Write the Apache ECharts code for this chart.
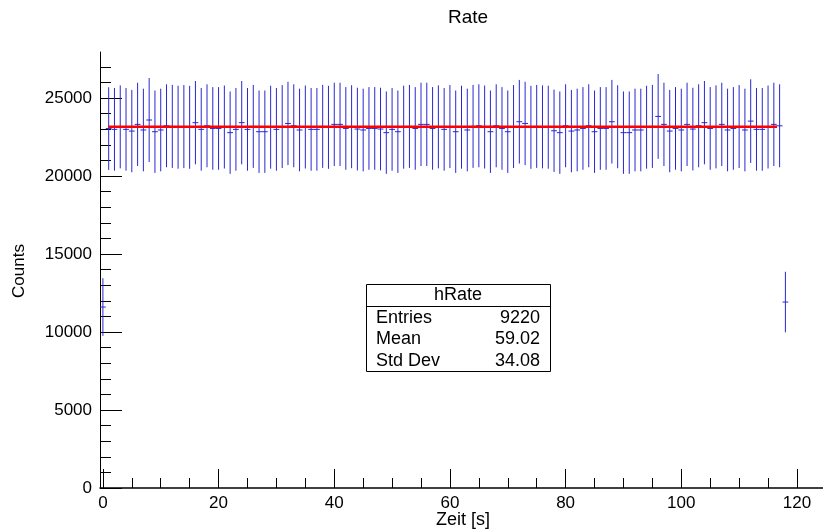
<!DOCTYPE html>
<html>
<head>
<meta charset="utf-8">
<script src="https://cdn.jsdelivr.net/npm/echarts@6/dist/echarts.min.js"></script>
<style>
  html, body { margin: 0; padding: 0; background: #ffffff; }
  #chart { width: 823px; height: 531px; }
</style>
</head>
<body>
<div id="chart"></div>
<script>
// Bin centres of the rate histogram (1 s bins)
const binCenters = [
  0, 1, 2, 3, 4, 5, 6, 7, 8, 9, 10, 11, 12, 13, 14, 15, 16, 17, 18, 19, 20,
  21, 22, 23, 24, 25, 26, 27, 28, 29, 30, 31, 32, 33, 34, 35, 36, 37, 38, 39, 40,
  41, 42, 43, 44, 45, 46, 47, 48, 49, 50, 51, 52, 53, 54, 55, 56, 57, 58, 59, 60,
  61, 62, 63, 64, 65, 66, 67, 68, 69, 70, 71, 72, 73, 74, 75, 76, 77, 78, 79, 80,
  81, 82, 83, 84, 85, 86, 87, 88, 89, 90, 91, 92, 93, 94, 95, 96, 97, 98, 99, 100,
  101, 102, 103, 104, 105, 106, 107, 108, 109, 110, 111, 112, 113, 114, 115, 116, 117, 118
];

// Bin contents (counts per bin)
const counts = [
  11600,
  23040, 22990, 23150, 22990, 22880, 23310, 22950, 23590, 22840, 22950,
  23220, 23180, 23130, 23170, 23120, 23420, 22990, 23220, 23050, 23050,
  23140, 22780, 22990, 23420, 22990, 23180, 22840, 22840, 23130, 22990,
  23170, 23370, 23220, 22950, 23140, 22990, 22990, 23180, 23120, 23310,
  23310, 23050, 23160, 23010, 22950, 23050, 23050, 23010, 22780, 22990,
  22840, 23130, 23180, 23050, 23310, 23310, 23050, 23150, 22990, 23170,
  22840, 23130, 22950, 23180, 23220, 23140, 22840, 23220, 23050, 22840,
  23170, 23480, 23370, 23120, 23180, 23150, 23130, 22900, 22780, 23220,
  22880, 22950, 23050, 23220, 22840, 23050, 23050, 23480, 23160, 22780,
  22780, 22950, 22950, 23130, 23180, 23820, 23310, 22880, 23050, 22950,
  23310, 23010, 23220, 23420, 23050, 23150, 23310, 22950, 23050, 23170,
  22950, 23520, 22990, 22990, 23140, 23310, 23220,
  11920
];

// Bin errors (half length of each vertical error bar)
const countErrors = [
  1850,
  2650, 2650, 2660, 2650, 2640, 2670, 2650, 2690, 2640, 2650,
  2660, 2660, 2660, 2660, 2660, 2670, 2650, 2660, 2650, 2650,
  2660, 2640, 2650, 2670, 2650, 2660, 2640, 2640, 2660, 2650,
  2660, 2670, 2660, 2650, 2660, 2650, 2650, 2660, 2660, 2670,
  2670, 2650, 2660, 2650, 2650, 2650, 2650, 2650, 2640, 2650,
  2640, 2660, 2660, 2650, 2670, 2670, 2650, 2660, 2650, 2660,
  2640, 2660, 2650, 2660, 2660, 2660, 2640, 2660, 2650, 2640,
  2660, 2680, 2670, 2660, 2660, 2660, 2660, 2640, 2640, 2660,
  2640, 2650, 2650, 2660, 2640, 2650, 2650, 2680, 2660, 2640,
  2640, 2650, 2650, 2660, 2660, 2720, 2670, 2640, 2650, 2650,
  2670, 2650, 2660, 2670, 2650, 2660, 2670, 2650, 2650, 2660,
  2650, 2680, 2650, 2650, 2660, 2670, 2660,
  1940
];

// Constant fit (pol0) and the range it was fitted over
const fitRange = [1, 116.55];
const fitLevel = [23160, 23160];

// Axis ticks
const xMajorTicks = [0, 20, 40, 60, 80, 100, 120];
const xMinorTicks = [5, 10, 15, 25, 30, 35, 45, 50, 55, 65, 70, 75, 85, 90, 95, 105, 110, 115];
const yMajorTicks = [0, 5000, 10000, 15000, 20000, 25000];
const yMinorTicks = [1000, 2000, 3000, 4000, 6000, 7000, 8000, 9000, 11000, 12000, 13000, 14000,
                     16000, 17000, 18000, 19000, 21000, 22000, 23000, 24000, 26000, 27000];

// Statistics box
const statTitle = 'hRate';
const statLabels = ['Entries', 'Mean', 'Std Dev'];
const statValues = ['9220', '59.02', '34.08'];

const FONT = '"Liberation Sans", Arial, Helvetica, sans-serif';
const BAR_COLOR = '#2828d2';

const chart = echarts.init(document.getElementById('chart'), null, { renderer: 'canvas' });

const errorData = binCenters.map((x, i) => [x, counts[i], countErrors[i]]);

// Vertical error bar plus a horizontal marker spanning the bin width
function renderErrorBar(params, api) {
  const x = api.value(0);
  const y = api.value(1);
  const e = api.value(2);
  const top = api.coord([x, y + e]);
  const bottom = api.coord([x, y - e]);
  const left = api.coord([x - 0.5, y]);
  const right = api.coord([x + 0.5, y]);
  const style = { stroke: BAR_COLOR, lineWidth: 1 };
  return {
    type: 'group',
    children: [
      { type: 'line', shape: { x1: top[0], y1: top[1], x2: bottom[0], y2: bottom[1] }, style: style },
      { type: 'line', shape: { x1: left[0], y1: left[1], x2: right[0], y2: right[1] }, style: style }
    ]
  };
}

const axisLabelStyle = { color: '#000', fontFamily: FONT, fontSize: 17, formatter: v => String(v) };

const statRows = [];
statLabels.forEach((label, i) => {
  const y = 318 + i * 21.5;
  statRows.push({
    type: 'text', x: 376, y: y,
    style: { text: label, font: '18px ' + FONT, fill: '#000', align: 'left', verticalAlign: 'middle' }
  });
  statRows.push({
    type: 'text', x: 540, y: y,
    style: { text: statValues[i], font: '18px ' + FONT, fill: '#000', align: 'right', verticalAlign: 'middle' }
  });
});

const option = {
  backgroundColor: '#ffffff',
  animation: false,
  grid: { left: 100, right: 0, top: 52, bottom: 43, containLabel: false },
  xAxis: [
    {
      type: 'value', min: -0.5, max: 124.5, position: 'bottom',
      axisLine: { show: true, onZero: false, lineStyle: { color: '#000', width: 1.5 } },
      axisTick: { show: true, inside: true, length: 19, customValues: xMajorTicks, lineStyle: { color: '#000' } },
      axisLabel: { show: true, customValues: xMajorTicks, margin: 7, ...axisLabelStyle },
      splitLine: { show: false }
    },
    {
      type: 'value', min: -0.5, max: 124.5, position: 'bottom',
      axisLine: { show: false, onZero: false },
      axisTick: { show: true, inside: true, length: 10, customValues: xMinorTicks, lineStyle: { color: '#000' } },
      axisLabel: { show: false },
      splitLine: { show: false }
    }
  ],
  yAxis: [
    {
      type: 'value', min: 0, max: 27950, position: 'left',
      axisLine: { show: true, onZero: false, lineStyle: { color: '#000', width: 1 } },
      axisTick: { show: true, inside: true, length: 22, customValues: yMajorTicks, lineStyle: { color: '#000' } },
      axisLabel: { show: true, customValues: yMajorTicks, margin: 8, ...axisLabelStyle },
      splitLine: { show: false }
    },
    {
      type: 'value', min: 0, max: 27950, position: 'left',
      axisLine: { show: false, onZero: false },
      axisTick: { show: true, inside: true, length: 11, customValues: yMinorTicks, lineStyle: { color: '#000' } },
      axisLabel: { show: false },
      splitLine: { show: false }
    }
  ],
  series: [
    {
      name: 'hRate',
      type: 'custom',
      xAxisIndex: 0, yAxisIndex: 0,
      data: errorData,
      encode: { x: 0, y: 1 },
      renderItem: renderErrorBar,
      z: 2
    },
    {
      name: 'pol0',
      type: 'line',
      xAxisIndex: 0, yAxisIndex: 0,
      data: fitRange.map((x, i) => [x, fitLevel[i]]),
      symbol: 'none',
      lineStyle: { color: '#ff0000', width: 2.6 },
      z: 5
    }
  ],
  graphic: [
    {
      type: 'text', x: 468, y: 18,
      style: { text: 'Rate', font: '19px ' + FONT, fill: '#000', align: 'center', verticalAlign: 'middle' }
    },
    {
      type: 'text', x: 463, y: 520,
      style: { text: 'Zeit [s]', font: '18px ' + FONT, fill: '#000', align: 'center', verticalAlign: 'middle' }
    },
    {
      type: 'text', x: 19, y: 271, rotation: Math.PI / 2,
      style: { text: 'Counts', font: '17px ' + FONT, fill: '#000', align: 'center', verticalAlign: 'middle' }
    },
    {
      type: 'group',
      children: [
        {
          type: 'rect', shape: { x: 366.5, y: 284.5, width: 184, height: 87 },
          style: { fill: '#ffffff', stroke: '#000', lineWidth: 1 }
        },
        {
          type: 'line', shape: { x1: 366.5, y1: 306.5, x2: 550.5, y2: 306.5 },
          style: { stroke: '#000', lineWidth: 1 }
        },
        {
          type: 'text', x: 458, y: 295.5,
          style: { text: statTitle, font: '18px ' + FONT, fill: '#000', align: 'center', verticalAlign: 'middle' }
        },
        ...statRows
      ]
    }
  ]
};

chart.setOption(option);
</script>
</body>
</html>
